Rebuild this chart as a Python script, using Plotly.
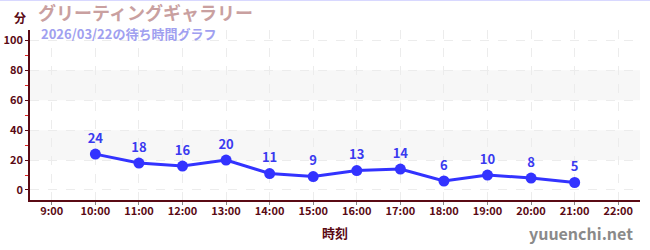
import plotly.graph_objects as go

hours = [10, 11, 12, 13, 14, 15, 16, 17, 18, 19, 20, 21]
waits = [24, 18, 16, 20, 11, 9, 13, 14, 6, 10, 8, 5]
tick_hours = list(range(9, 23))
tick_labels = [f"{h}:00" for h in tick_hours]

AX = "#5a0a14"
FONT = "Noto Sans CJK JP"

fig = go.Figure()
# shaded bands
for y0, y1 in [(20, 40), (60, 80)]:
    fig.add_shape(type="rect", xref="paper", yref="y", x0=0, x1=1, y0=y0, y1=y1,
                  fillcolor="#f7f7f7", line_width=0, layer="below")

fig.add_trace(go.Scatter(
    x=hours, y=waits, mode="lines+markers+text",
    text=[str(v) for v in waits], textposition="top center",
    textfont=dict(color="#3a3af0", size=13, family=FONT, weight="bold"),
    line=dict(color="#3333ff", width=3),
    marker=dict(color="#3333ff", size=11),
    cliponaxis=False, hoverinfo="skip"))

fig.update_layout(
    width=650, height=250,
    margin=dict(l=30, r=10, t=30, b=50),
    paper_bgcolor="white", plot_bgcolor="white",
    showlegend=False,
    font=dict(family=FONT, color=AX),
    xaxis=dict(range=[8.5, 22.5], tickvals=tick_hours, ticktext=tick_labels,
               showline=True, linecolor=AX, linewidth=1.5, automargin=False,
               ticks="outside", ticklen=3, tickcolor="#888", ticklabelstandoff=-3,
               tickfont=dict(size=11, color=AX, weight="bold"),
               showgrid=True, gridcolor="#ececec", griddash="dash", gridwidth=1,
               zeroline=False, fixedrange=True),
    yaxis=dict(range=[-6.7, 107], tickvals=[0, 20, 40, 60, 80, 100],
               showline=True, linecolor=AX, linewidth=1.5, automargin=False,
               ticks="outside", ticklen=3, tickcolor=AX,
               tickfont=dict(size=11, color=AX, weight="bold"),
               showgrid=True, gridcolor="#ececec", griddash="dash", gridwidth=1,
               zeroline=False, fixedrange=True,
               minor=dict(tickvals=[10, 30, 50, 70, 90], ticks="outside",
                          ticklen=3, tickcolor="#e02020", showgrid=False)),
)

fig.add_annotation(xref="paper", yref="paper", x=(20 - 30) / 610, y=(200 - 17) / 170,
                   xanchor="center", yanchor="middle", text="<b>分</b>",
                   showarrow=False, font=dict(size=12, color=AX, family=FONT))
fig.add_annotation(xref="paper", yref="paper", x=(37 - 30) / 610, y=(200 - 12) / 170,
                   xanchor="left", yanchor="middle", text="<b>グリーティングギャラリー</b>",
                   showarrow=False, borderpad=0,
                   font=dict(size=18, color="#c9a0a0", family=FONT))
fig.add_annotation(xref="paper", yref="paper", x=(40 - 30) / 610, y=(200 - 33) / 170,
                   xanchor="left", yanchor="middle", text="<b>2026/03/22の待ち時間グラフ</b>",
                   showarrow=False, borderpad=0,
                   font=dict(size=13, color="#a0a0f0", family=FONT))
fig.add_annotation(xref="paper", yref="paper", x=0.5, y=(200 - 232) / 170,
                   xanchor="center", yanchor="middle", text="<b>時刻</b>",
                   showarrow=False, font=dict(size=13, color=AX, family=FONT))
fig.add_annotation(xref="paper", yref="paper", x=(635 - 30) / 610, y=(200 - 233) / 170,
                   xanchor="right", yanchor="middle", text="<b>yuuenchi.net</b>",
                   showarrow=False, font=dict(size=16, color="#8a8a8a", family=FONT))
fig.add_shape(type="line", xref="paper", yref="paper", x0=-0.1, x1=1.1,
              y0=(200 - 0.5) / 170, y1=(200 - 0.5) / 170,
              line=dict(color="#d8d8ff", width=1))

fig.write_html("out.html")
